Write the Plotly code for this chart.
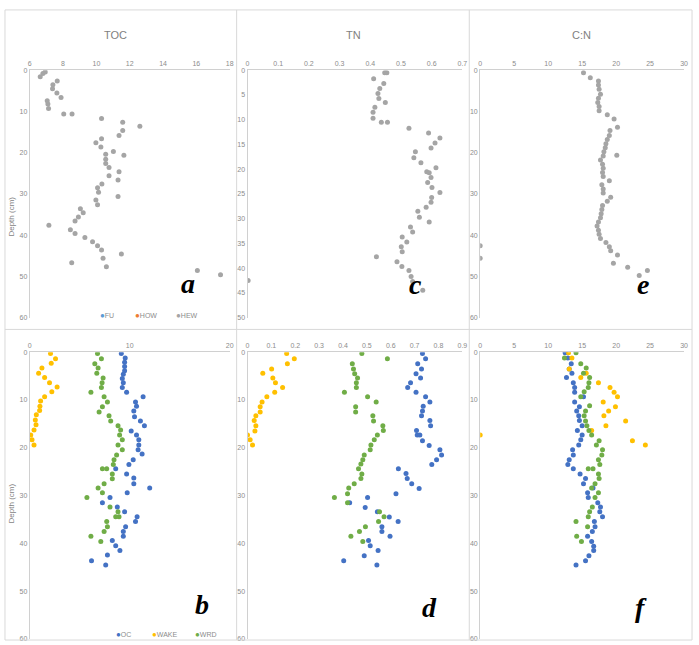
import plotly.graph_objects as go

# ---------------- DATA ----------------
# Panel a: TOC (HEW)
toc_hew_depth = [0.4, 0.8, 1.6, 2.6, 3.5, 4.5, 5.5, 6.6, 7.4, 8.2, 9.3, 10.6, 10.6, 11.7, 12.6, 13.6,
                 14.6, 15.8, 16.6, 17.6, 18.6, 19.7, 20.6, 20.4, 21.6, 22.6, 23.6, 24.6, 25.6, 26.6,
                 27.6, 28.5, 29.6, 30.6, 31.5, 32.6, 33.6, 34.6, 35.6, 36.6, 37.6, 38.7, 39.6, 40.6,
                 41.6, 42.6, 43.6, 44.6, 45.6, 46.7, 47.7, 48.6, 49.6]
toc_hew = [6.93, 6.79, 6.63, 7.65, 7.39, 7.37, 7.63, 7.88, 7.05, 7.09, 7.13, 8.04, 8.54, 10.31, 11.58, 12.61,
           11.58, 11.36, 10.31, 9.97, 10.27, 11.02, 11.65, 10.56, 10.56, 10.56, 10.76, 11.36, 10.76, 11.30,
           10.33, 10.07, 10.13, 11.30, 9.97, 10.07, 9.04, 9.21, 8.92, 8.72, 7.15, 8.44, 8.72, 9.31,
           9.77, 10.07, 10.31, 11.5, 10.40, 8.52, 10.6, 16.06, 17.45]

# Panel c: TN (HEW)
tn_hew_depth = [0.5, 0.5, 1.7, 2.7, 3.7, 4.7, 5.7, 6.5, 7.5, 8.5, 9.7, 10.5, 10.5, 11.7, 12.7, 13.7, 14.7,
                15.7, 16.5, 17.7, 18.7, 19.7, 20.5, 20.7, 21.7, 22.7, 23.7, 24.7, 25.7, 26.7, 27.7, 28.5,
                29.7, 30.7, 31.7, 32.7, 33.7, 34.7, 35.7, 36.7, 37.7, 38.7, 39.7, 40.5, 41.7, 42.7, 44.5, 42.5]
tn_hew = [0.454, 0.447, 0.411, 0.444, 0.431, 0.425, 0.428, 0.449, 0.415, 0.409, 0.409, 0.436, 0.456, 0.526,
          0.590, 0.627, 0.611, 0.598, 0.547, 0.542, 0.565, 0.614, 0.584, 0.592, 0.598, 0.587, 0.601, 0.627,
          0.600, 0.598, 0.582, 0.555, 0.560, 0.592, 0.531, 0.538, 0.504, 0.519, 0.501, 0.504, 0.420, 0.487,
          0.503, 0.526, 0.533, 0.538, 0.571, 0.002]

# Panel e: C:N (HEW)
cn_hew_depth = [0.6, 1.8, 2.6, 3.6, 4.6, 5.8, 6.8, 7.8, 8.8, 9.8, 10.8, 11.8, 13.8, 14.6, 15.8, 16.8, 17.8,
                18.8, 19.8, 20.6, 20.8, 21.8, 22.8, 23.8, 24.8, 25.8, 26.8, 27.8, 28.8, 29.8, 30.8, 31.8,
                32.8, 33.8, 34.8, 35.8, 36.8, 37.8, 38.8, 39.8, 40.8, 41.8, 42.8, 43.8, 44.8, 46.8, 47.8,
                48.6, 49.8, 42.6, 45.6]
cn_hew = [15.2, 16.2, 17.4, 17.4, 17.5, 17.7, 17.4, 17.3, 17.5, 17.5, 18.7, 19.7, 20.2, 19.1, 19.0, 18.7,
          18.5, 18.4, 18.2, 20.1, 18.1, 17.7, 18.0, 18.1, 18.0, 18.1, 19.0, 17.9, 18.1, 18.1, 19.2, 18.7,
          18.0, 17.9, 17.8, 17.7, 17.4, 17.2, 17.4, 17.5, 17.7, 18.5, 19.0, 19.2, 20.2, 19.6, 21.7, 24.6,
          23.4, 0.0, 0.0]

# Panel b: TOC (OC, WAKE, WRD)
b_oc_depth = [0.3, 1.2, 2.1, 3.0, 3.9, 4.6, 5.5, 6.4, 7.4, 8.4, 9.3, 10.4, 11.3, 12.3, 13.5, 14.4, 15.4,
              16.5, 17.3, 18.3, 19.4, 20.4, 21.3, 22.5, 23.5, 24.4, 25.5, 26.3, 27.5, 28.4, 29.4, 30.4,
              31.5, 32.4, 33.4, 34.4, 35.4, 36.5, 37.5, 38.5, 39.4, 40.5, 41.5, 42.4, 43.6, 44.5]
b_oc = [9.16, 9.55, 9.49, 9.49, 9.49, 9.36, 9.26, 9.36, 9.26, 9.69, 11.34, 10.58, 10.68, 10.41, 10.48,
        11.07, 11.47, 10.15, 10.68, 10.91, 10.91, 10.84, 11.24, 10.35, 9.92, 8.60, 9.69, 10.41, 10.41,
        12.0, 9.75, 8.03, 7.27, 8.76, 9.49, 10.74, 10.58, 9.59, 9.36, 9.36, 8.26, 8.60, 9.02, 7.77,
        6.18, 7.60]
b_wake_depth = [0.3, 1.4, 2.3, 3.3, 4.4, 5.3, 6.4, 7.3, 8.3, 9.3, 10.2, 11.3, 12.2, 13.1, 14.2, 15.2,
                16.3, 17.3, 18.3, 19.4]
b_wake = [2.08, 2.58, 2.15, 1.22, 0.89, 1.49, 1.98, 2.74, 2.21, 1.49, 1.09, 1.02, 0.99, 0.66, 0.56, 0.63,
          0.43, 0.10, 0.23, 0.43]
b_wrd_depth = [0.3, 1.4, 2.4, 3.3, 4.4, 5.4, 6.4, 7.4, 8.4, 9.3, 10.4, 11.4, 12.5, 13.3, 14.4, 15.4,
               16.3, 17.3, 18.3, 19.4, 20.4, 21.5, 22.5, 23.5, 24.4, 24.4, 25.5, 26.5, 27.5, 28.4, 29.4,
               30.4, 32.4, 33.4, 34.4, 34.4, 35.4, 36.5, 37.5, 38.5, 39.6]
b_wrd = [6.78, 7.17, 6.51, 6.84, 6.71, 7.34, 7.24, 7.17, 6.12, 7.44, 7.77, 7.27, 6.94, 7.93, 8.10, 8.83,
         9.09, 8.99, 9.26, 8.83, 9.26, 8.69, 8.43, 8.36, 7.27, 7.70, 8.26, 8.26, 7.44, 6.84, 7.27, 5.72,
         8.03, 8.83, 8.93, 8.60, 7.70, 7.77, 7.44, 6.12, 7.11]

# Panel d: TN (OC, WAKE, WRD)
d_oc_depth = [0.3, 1.4, 2.4, 3.5, 4.5, 5.4, 6.4, 7.4, 8.4, 9.3, 10.4, 11.3, 12.3, 13.3, 14.3, 15.4, 16.4,
              17.3, 17.3, 18.5, 19.5, 20.4, 21.5, 22.5, 23.5, 24.4, 25.4, 26.4, 27.5, 28.5, 29.6, 30.4,
              31.5, 32.5, 33.4, 34.5, 35.4, 36.5, 37.5, 38.5, 39.4, 40.5, 41.5, 42.6, 43.6, 44.5]
d_oc = [0.733, 0.746, 0.713, 0.729, 0.706, 0.725, 0.683, 0.671, 0.706, 0.746, 0.764, 0.736, 0.733, 0.729,
        0.764, 0.767, 0.708, 0.711, 0.722, 0.733, 0.761, 0.806, 0.813, 0.792, 0.772, 0.632, 0.664, 0.669,
        0.688, 0.719, 0.622, 0.503, 0.428, 0.493, 0.544, 0.594, 0.631, 0.563, 0.563, 0.597, 0.507, 0.514,
        0.547, 0.489, 0.403, 0.542]
d_wake_depth = [0.3, 1.4, 2.4, 3.5, 4.4, 5.4, 6.4, 7.4, 8.4, 9.3, 10.4, 11.4, 12.5, 13.3, 14.3, 15.4,
                16.5, 17.3, 18.3, 19.4]
d_wake = [0.164, 0.196, 0.167, 0.101, 0.064, 0.106, 0.117, 0.147, 0.114, 0.081, 0.061, 0.053, 0.053,
          0.035, 0.028, 0.035, 0.031, 0.0, 0.011, 0.021]
d_wrd_depth = [0.3, 1.4, 2.4, 3.5, 4.5, 5.4, 6.4, 7.4, 8.4, 9.3, 10.4, 11.4, 12.5, 13.3, 14.4, 15.4,
               16.4, 17.3, 18.3, 19.4, 20.4, 21.5, 22.5, 23.4, 24.4, 25.5, 26.4, 27.5, 28.4, 29.6, 30.4,
               31.5, 33.4, 34.4, 35.4, 36.5, 37.5, 38.5, 39.6]
d_wrd = [0.479, 0.586, 0.439, 0.444, 0.449, 0.461, 0.456, 0.456, 0.406, 0.503, 0.539, 0.453, 0.453, 0.525,
         0.528, 0.567, 0.569, 0.544, 0.531, 0.517, 0.514, 0.489, 0.483, 0.475, 0.465, 0.479, 0.475, 0.447,
         0.424, 0.419, 0.364, 0.419, 0.553, 0.572, 0.549, 0.494, 0.469, 0.433, 0.483]

# Panel f: C:N (OC, WAKE, WRD)
f_oc_depth = [0.1, 1.2, 2.4, 3.5, 4.4, 5.3, 6.4, 7.4, 8.4, 9.3, 10.4, 11.4, 12.3, 13.3, 14.3, 15.4, 16.4,
              17.3, 18.3, 19.4, 20.4, 21.5, 22.5, 23.5, 24.4, 25.5, 26.4, 27.5, 28.4, 29.4, 30.4, 31.5,
              32.4, 33.4, 34.4, 35.4, 36.5, 37.5, 38.5, 39.6, 40.6, 41.5, 42.6, 43.6, 44.5]
f_oc = [12.5, 12.9, 13.4, 13.1, 13.5, 12.7, 13.7, 13.9, 13.9, 15.2, 13.9, 14.6, 14.2, 14.5, 14.6, 15.0,
        14.3, 15.0, 14.8, 14.5, 13.6, 13.7, 13.1, 12.9, 13.7, 14.7, 15.5, 15.2, 16.6, 15.8, 15.9, 17.3,
        17.7, 17.6, 18.0, 16.8, 16.9, 16.5, 15.8, 16.4, 16.7, 16.7, 16.0, 15.5, 14.1]
f_wake_depth = [0.1, 1.2, 3.5, 4.4, 5.3, 6.4, 7.4, 8.4, 9.3, 10.4, 11.4, 12.3, 13.3, 14.4, 15.4, 16.4,
                17.3, 18.5, 19.4]
f_wake = [13.0, 13.5, 13.1, 15.6, 14.8, 17.4, 19.1, 19.7, 20.2, 18.1, 19.9, 18.9, 18.2, 21.4, 18.5, 16.4,
          0.0, 22.4, 24.3]
f_wrd_depth = [0.1, 1.2, 2.4, 3.3, 4.4, 5.3, 6.4, 7.4, 8.3, 9.3, 11.2, 12.3, 13.3, 14.4, 15.4, 16.4,
               17.3, 18.5, 19.4, 20.4, 21.5, 22.5, 23.5, 24.4, 24.4, 25.5, 26.4, 27.5, 28.4, 29.4, 30.4,
               32.4, 33.4, 34.4, 35.4, 36.5, 38.5, 39.6]
f_wrd = [14.1, 12.4, 14.8, 15.6, 15.2, 16.1, 16.0, 15.9, 15.3, 14.8, 16.1, 15.5, 15.3, 15.5, 15.7, 16.0,
         16.4, 17.5, 17.1, 18.0, 17.9, 17.4, 17.6, 15.9, 16.6, 17.4, 17.5, 16.9, 16.4, 17.4, 16.9, 16.5,
         16.1, 15.9, 14.1, 15.8, 14.2, 14.9]

titles = ["TOC", "TN", "C:N"]
panel_letters = ["a", "c", "e", "b", "d", "f"]
top_legend_names = ["FU", "HOW", "HEW"]
bottom_legend_names = ["OC", "WAKE", "WRD"]

# ---------------- STYLE ----------------
W, H = 699, 645
C_FU, C_HOW, C_HEW = "#5B9BD5", "#ED7D31", "#A5A5A5"
C_OC, C_WAKE, C_WRD = "#4472C4", "#FFC000", "#70AD47"
TXT = "#8C8C8C"
FONT = "Liberation Sans Narrow, Arial Narrow, Liberation Sans, sans-serif"
MS = 5


def px_x(p):
    return p / W


def px_y(p):
    return 1 - p / H


cols_px = [(28, 230), (248, 465), (483, 689)]
rows_px = [(67, 317), (352, 642)]

fig = go.Figure()


def add(x, y, color, name, idx):
    ax = "" if idx == 1 else str(idx)
    fig.add_trace(go.Scatter(
        x=x, y=y, mode="markers", name=name,
        marker=dict(color=color, size=MS, line=dict(width=0)),
        xaxis="x" + ax, yaxis="y" + ax, showlegend=False,
        hoverinfo="name+x+y"))


# top row: axes 1,2,3 ; bottom row: 4,5,6
add(toc_hew, toc_hew_depth, C_HEW, "HEW", 1)
add(tn_hew, tn_hew_depth, C_HEW, "HEW", 2)
add(cn_hew, cn_hew_depth, C_HEW, "HEW", 3)

add(b_oc, b_oc_depth, C_OC, "OC", 4)
add(b_wake, b_wake_depth, C_WAKE, "WAKE", 4)
add(b_wrd, b_wrd_depth, C_WRD, "WRD", 4)
add(d_oc, d_oc_depth, C_OC, "OC", 5)
add(d_wake, d_wake_depth, C_WAKE, "WAKE", 5)
add(d_wrd, d_wrd_depth, C_WRD, "WRD", 5)
add(f_oc, f_oc_depth, C_OC, "OC", 6)
add(f_wake, f_wake_depth, C_WAKE, "WAKE", 6)
add(f_wrd, f_wrd_depth, C_WRD, "WRD", 6)

xranges = [(6, 18, 2), (0, 0.7, 0.1), (0, 30, 5), (0, 20, 10), (0, 0.9, 0.1), (0, 30, 5)]
yranges = [(60, 10), (50, 5), (60, 10), (60, 10), (60, 10), (60, 10)]

layout = {}
for i in range(6):
    r, c = divmod(i, 3)
    ax = "" if i == 0 else str(i + 1)
    x0, x1 = cols_px[c]
    y0, y1 = rows_px[r]
    xmin, xmax, dx = xranges[i]
    ymax, dy = yranges[i]
    layout["xaxis" + ax] = dict(
        domain=[px_x(x0), px_x(x1)], range=[xmin, xmax], dtick=dx, tick0=xmin,
        side="top", anchor="y" + ax, showgrid=False, zeroline=False,
        showline=True, linecolor="#D0D0D0", linewidth=1, ticks="",
        tickfont=dict(family=FONT, size=7, color=TXT), fixedrange=True)
    layout["yaxis" + ax] = dict(
        domain=[px_y(y1), px_y(y0)], range=[ymax, 0], dtick=dy, tick0=0,
        anchor="x" + ax, showgrid=False, zeroline=False,
        showline=True, linecolor="#D0D0D0", linewidth=1, ticks="",
        tickfont=dict(family=FONT, size=7, color=TXT), fixedrange=True)

annotations = []
title_x = [115, 355, 585]
for t, xp in zip(titles, title_x):
    annotations.append(dict(text=t, x=px_x(xp), y=px_y(31), xref="paper", yref="paper",
                            xanchor="center", yanchor="middle", showarrow=False,
                            font=dict(family=FONT, size=11, color="#7F7F7F")))
for yp in [215, 505]:
    annotations.append(dict(text="Depth (cm)", x=px_x(10), y=px_y(yp), xref="paper", yref="paper",
                            xanchor="center", yanchor="middle", showarrow=False, textangle=-90,
                            font=dict(family=FONT, size=8, color="#7F7F7F")))
letter_pos = [(188, 283), (418, 284), (647, 284), (202, 607), (432, 610), (645, 610)]
for L, (xp, yp) in zip(panel_letters, letter_pos):
    annotations.append(dict(text="<b><i>%s</i></b>" % L, x=px_x(xp), y=px_y(yp),
                            xref="paper", yref="paper", xanchor="center", yanchor="middle",
                            showarrow=False,
                            font=dict(family="Liberation Serif, DejaVu Serif, serif", size=28,
                                      color="black")))

# legends (marker glyph + label), placed like the reference's compact legends
top_leg_colors = [C_FU, C_HOW, C_HEW]
bot_leg_colors = [C_OC, C_WAKE, C_WRD]
top_leg_x = [97, 132, 174]
bot_leg_x = [113, 149, 193]
for names, cols, xs, yp in [(top_legend_names, top_leg_colors, top_leg_x, 315),
                            (bottom_legend_names, bot_leg_colors, bot_leg_x, 637)]:
    for nm, colr, xp in zip(names, cols, xs):
        annotations.append(dict(
            text='<span style="color:%s;font-size:8px">\u25CF</span>%s' % (colr, nm),
            x=px_x(xp), y=px_y(yp), xref="paper", yref="paper",
            xanchor="left", yanchor="middle", showarrow=False,
            font=dict(family=FONT, size=7, color=TXT)))

shapes = []
BC = "#D9D9D9"
shapes.append(dict(type="rect", xref="paper", yref="paper", x0=px_x(3), x1=px_x(697),
                   y0=px_y(643), y1=px_y(6), line=dict(color=BC, width=1)))
for xp in [237, 472]:
    shapes.append(dict(type="line", xref="paper", yref="paper", x0=px_x(xp), x1=px_x(xp),
                       y0=px_y(643), y1=px_y(6), line=dict(color=BC, width=1)))
shapes.append(dict(type="line", xref="paper", yref="paper", x0=px_x(3), x1=px_x(697),
                   y0=px_y(329), y1=px_y(329), line=dict(color=BC, width=1)))

fig.update_layout(
    width=W, height=H, margin=dict(l=0, r=0, t=0, b=0),
    paper_bgcolor="white", plot_bgcolor="white", showlegend=False,
    annotations=annotations, shapes=shapes, **layout)

fig.write_html("out.html")
